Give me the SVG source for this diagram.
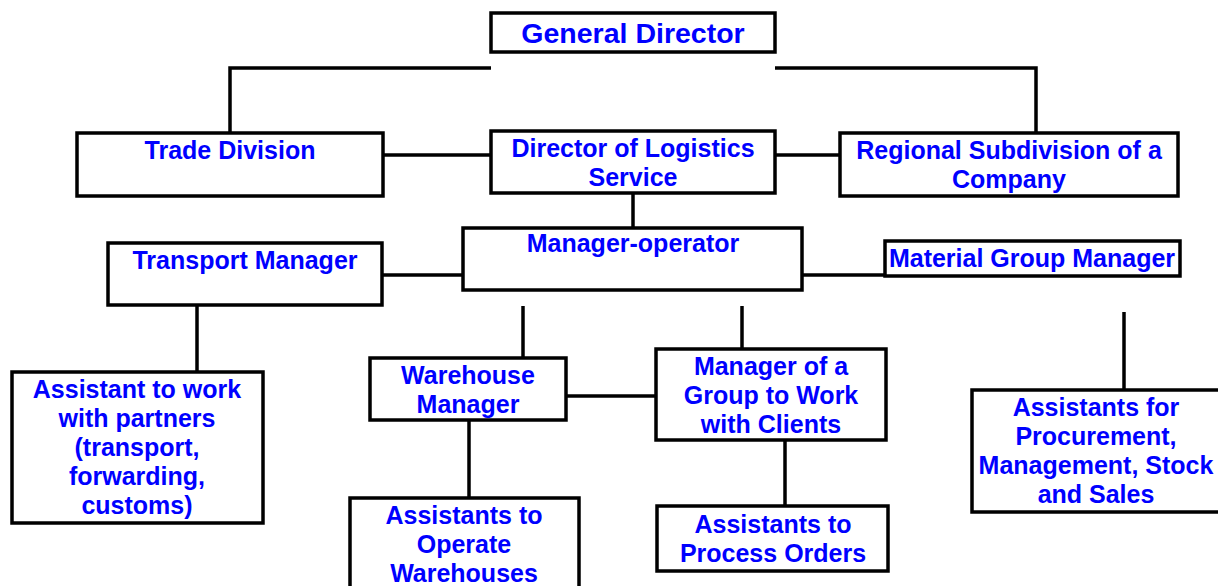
<svg xmlns="http://www.w3.org/2000/svg" width="1218" height="586" viewBox="0 0 1218 586">
<style>
.box{fill:#fff;stroke:#000;stroke-width:3.5}
.t{font-family:"Liberation Sans",Arial,sans-serif;font-weight:bold;font-size:25px;fill:#0000ff;text-anchor:middle}
.big{font-size:28.5px}
.ln{stroke:#000;stroke-width:3.5;fill:none}
</style>
<rect width="1218" height="586" fill="#fff"/>
<g id="connectors">
<polyline class="ln" points="491,68 230,68 230,133"/>
<polyline class="ln" points="775,68 1036,68 1036,134"/>
<line class="ln" x1="383" y1="155" x2="491" y2="155"/>
<line class="ln" x1="775" y1="155" x2="840" y2="155"/>
<line class="ln" x1="633" y1="193" x2="633" y2="228"/>
<line class="ln" x1="382" y1="275" x2="463" y2="275"/>
<line class="ln" x1="802" y1="275" x2="885" y2="275"/>
<line class="ln" x1="197" y1="305" x2="197" y2="372"/>
<line class="ln" x1="523" y1="306" x2="523" y2="358"/>
<line class="ln" x1="742" y1="306" x2="742" y2="349"/>
<line class="ln" x1="566" y1="396" x2="656" y2="396"/>
<line class="ln" x1="469" y1="420" x2="469" y2="498"/>
<line class="ln" x1="785" y1="440" x2="785" y2="506"/>
<line class="ln" x1="1124" y1="312" x2="1124" y2="390"/>
</g>
<g id="general-director">
<rect class="box" x="491" y="13" width="284" height="39"/>
<text class="t big" x="633" y="43">General Director</text>
</g>
<g id="trade-division">
<rect class="box" x="77" y="133" width="306" height="63"/>
<text class="t" x="230" y="159">Trade Division</text>
</g>
<g id="director-logistics">
<rect class="box" x="491" y="131" width="284" height="62"/>
<text class="t" x="633" y="157">Director of Logistics</text>
<text class="t" x="633" y="186">Service</text>
</g>
<g id="regional-subdivision">
<rect class="box" x="840" y="133" width="338" height="63"/>
<text class="t" x="1009" y="159">Regional Subdivision of a</text>
<text class="t" x="1009" y="188">Company</text>
</g>
<g id="manager-operator">
<rect class="box" x="463" y="228" width="339" height="62"/>
<text class="t" x="633" y="252">Manager-operator</text>
</g>
<g id="transport-manager">
<rect class="box" x="108" y="243" width="274" height="62"/>
<text class="t" x="245" y="269">Transport Manager</text>
</g>
<g id="material-group-manager">
<rect class="box" x="885" y="241" width="295" height="35"/>
<text class="t" x="1032" y="267">Material Group Manager</text>
</g>
<g id="assistant-partners">
<rect class="box" x="12" y="372" width="251" height="151"/>
<text class="t" x="137" y="398">Assistant to work</text>
<text class="t" x="137" y="427">with partners</text>
<text class="t" x="137" y="456">(transport,</text>
<text class="t" x="137" y="485">forwarding,</text>
<text class="t" x="137" y="514">customs)</text>
</g>
<g id="warehouse-manager">
<rect class="box" x="370" y="358" width="196" height="62"/>
<text class="t" x="468" y="384">Warehouse</text>
<text class="t" x="468" y="413">Manager</text>
</g>
<g id="manager-group-clients">
<rect class="box" x="656" y="349" width="230" height="91"/>
<text class="t" x="771" y="375">Manager of a</text>
<text class="t" x="771" y="404">Group to Work</text>
<text class="t" x="771" y="433">with Clients</text>
</g>
<g id="assistants-warehouses">
<rect class="box" x="350" y="498" width="229" height="102"/>
<text class="t" x="464" y="524">Assistants to</text>
<text class="t" x="464" y="553">Operate</text>
<text class="t" x="464" y="582">Warehouses</text>
</g>
<g id="assistants-orders">
<rect class="box" x="657" y="506" width="231" height="65"/>
<text class="t" x="773" y="533">Assistants to</text>
<text class="t" x="773" y="562">Process Orders</text>
</g>
<g id="assistants-procurement">
<rect class="box" x="972" y="390" width="260" height="122"/>
<text class="t" x="1096" y="416">Assistants for</text>
<text class="t" x="1096" y="445">Procurement,</text>
<text class="t" x="1096" y="474">Management, Stock</text>
<text class="t" x="1096" y="503">and Sales</text>
</g>
</svg>
